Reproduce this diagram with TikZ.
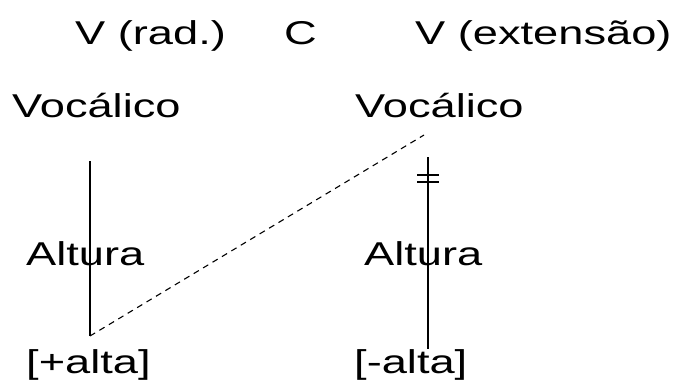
\documentclass[tikz,border=0pt]{standalone}
\usepackage{fontspec}
\setmainfont{Liberation Sans}[FakeStretch=1.37]
\begin{document}
\begin{tikzpicture}[x=1pt,y=-1pt,
  lbl/.style={anchor=base west,inner sep=0pt,font=\fontsize{33}{33}\selectfont},
  tier/.style={line width=1.8pt},
  spread/.style={line width=1.1pt,dash pattern=on 6pt off 5pt},
  delink/.style={line width=1.8pt}]
\useasboundingbox (0,0) rectangle (677,383);
% segment tier
\node[lbl] (vrad) at (75,44) {V (rad.)};
\node[lbl] (c) at (284,44) {C};
\node[lbl] (vext) at (415,44) {V (extensão)};
% vocalic nodes
\node[lbl] (voc1) at (12,117) {Vocálico};
\node[lbl] (voc2) at (355,117) {Vocálico};
% height nodes
\node[lbl] (alt1) at (26,265) {Altura};
\node[lbl] (alt2) at (364,265) {Altura};
% feature values
\node[lbl] (f1) at (26,373) {[+alta]};
\node[lbl] (f2) at (354,373) {[-alta]};
% association line endpoints
\coordinate (t1) at (90,161);
\coordinate (b1) at (90,336);
\coordinate (t2) at (428,157);
\coordinate (b2) at (428,349);
\coordinate (s2) at (424,135);
% association lines
\draw[tier] (t1) -- (b1);
\draw[tier] (t2) -- (b2);
% spreading line
\draw[spread] (b1) -- (s2);
% delinking marks
\draw[delink] (417,175) -- (439,175) (417,182) -- (439,182);
\end{tikzpicture}
\end{document}
